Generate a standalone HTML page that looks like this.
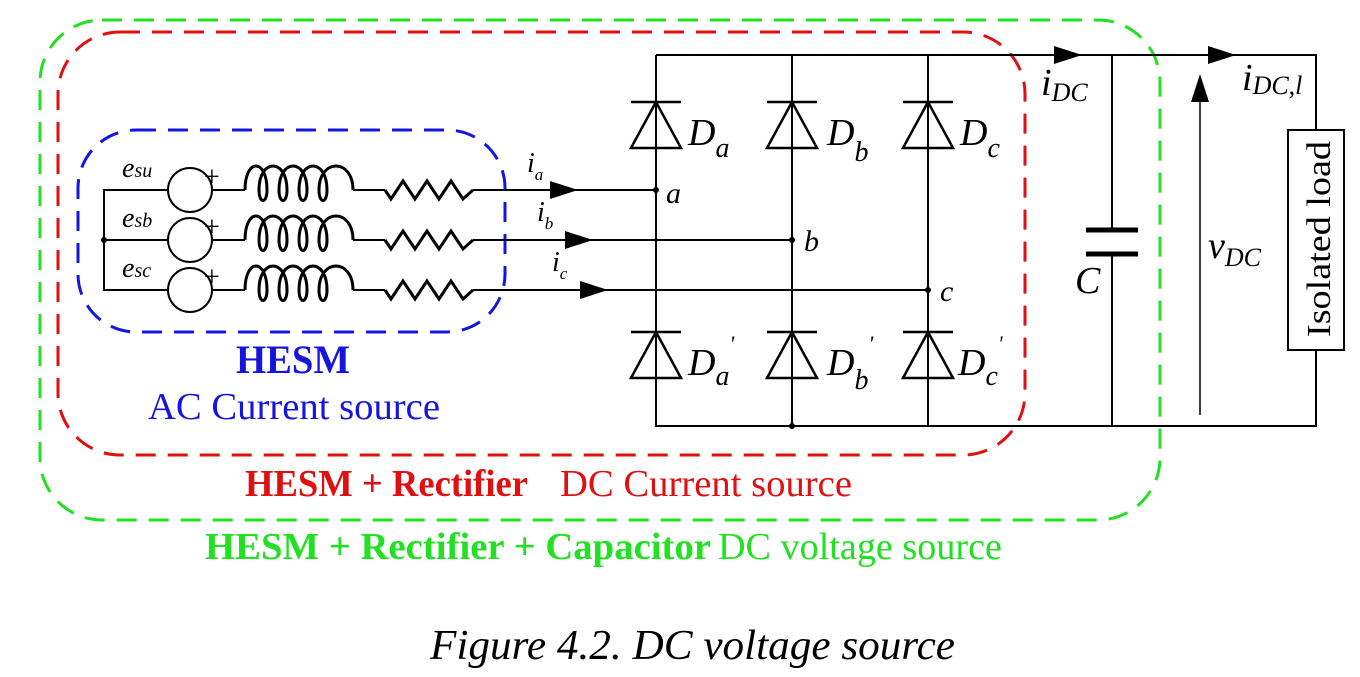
<!DOCTYPE html>
<html><head><style>
html,body{margin:0;padding:0;background:#fff;}
svg{display:block;}
text{font-family:"Liberation Serif",serif;}
</style></head><body>
<svg width="1360" height="677" viewBox="0 0 1360 677" xmlns="http://www.w3.org/2000/svg">
<defs>
<g id="ind"><path d="M0,0 C0,-32 22,-32 22,0 C22,14 14,14 14,0 C14,-32 42,-32 42,0 C42,14 34,14 34,0 C34,-32 62,-32 62,0 C62,14 54,14 54,0 C54,-32 82,-32 82,0 C82,14 74,14 74,0 C74,-32 108,-32 108,0" fill="none" stroke="#000" stroke-width="3"/></g>
<g id="res"><path d="M0,0 L6,9 L18,-9 L30,9 L42,-9 L54,9 L66,-9 L78,9 L88,0" fill="none" stroke="#000" stroke-width="3"/></g>
<g id="dio"><path d="M-25,0 L25,0 M0,0 L-25,46 L25,46 Z" fill="none" stroke="#000" stroke-width="2.5"/></g>
</defs>
<rect x="40" y="20" width="1120" height="500" rx="62" fill="none" stroke="#22e022" stroke-width="3" stroke-dasharray="20,12"/>
<rect x="58" y="32" width="967" height="423" rx="62" fill="none" stroke="#e01010" stroke-width="3" stroke-dasharray="20,12"/>
<rect x="78" y="130" width="427" height="202" rx="58" fill="none" stroke="#1515e0" stroke-width="3" stroke-dasharray="20,12"/>
<g stroke="#000" stroke-width="2" fill="none">
<path d="M168,190 H104 V290 H168 M104,240 H168"/>
<circle cx="190" cy="190" r="22"/><circle cx="190" cy="240" r="22"/><circle cx="190" cy="290" r="22"/>
<path d="M212,190 H245 M212,240 H245 M212,290 H245"/>
<path d="M353,190 H385 M353,240 H385 M353,290 H385"/>
<path d="M473,190 H656 M473,240 H792 M473,290 H928"/>
<path d="M656,55 H1316 V130 M1316,350 V426 H656 V55 M792,55 V426 M928,55 V426 M1112,55 V230 M1112,254 V426"/>
<path d="M1200,415 V100" stroke-width="1.5"/>
</g>
<circle cx="104" cy="240" r="3"/><circle cx="656" cy="190" r="3"/><circle cx="792" cy="240" r="3"/><circle cx="928" cy="290" r="3"/><circle cx="792" cy="426" r="3"/>
<g font-size="28"><text x="204" y="186">+</text><text x="204" y="236">+</text><text x="204" y="286">+</text></g>
<use href="#ind" x="245" y="190"/><use href="#ind" x="245" y="240"/><use href="#ind" x="245" y="290"/>
<use href="#res" x="385" y="190"/><use href="#res" x="385" y="240"/><use href="#res" x="385" y="290"/>
<g fill="#000">
<path d="M550,181 L578,190 L550,199Z"/><path d="M565,231 L593,240 L565,249Z"/><path d="M580,281 L608,290 L580,299Z"/>
<path d="M1054,46 L1082,55 L1054,64Z"/><path d="M1208,46 L1236,55 L1208,64Z"/>
<path d="M1191,102 L1200,74 L1209,102Z"/>
</g>
<use href="#dio" x="656" y="102"/><use href="#dio" x="792" y="102"/><use href="#dio" x="928" y="102"/>
<use href="#dio" x="656" y="332"/><use href="#dio" x="792" y="332"/><use href="#dio" x="928" y="332"/>
<path d="M1086,230 H1138 M1086,254 H1138" stroke="#000" stroke-width="5"/>
<rect x="1288" y="130" width="56" height="220" fill="#fff" stroke="#000" stroke-width="2"/>
<text transform="translate(1330,337) rotate(-90)" font-size="34" textLength="196" lengthAdjust="spacingAndGlyphs">Isolated load</text>
<g font-style="italic">
<text x="122" y="177" font-size="28">e<tspan font-size="20">su</tspan></text>
<text x="122" y="227" font-size="28">e<tspan font-size="20">sb</tspan></text>
<text x="122" y="277" font-size="28">e<tspan font-size="20">sc</tspan></text>
<text x="527" y="172" font-size="28">i<tspan font-size="17" dy="8">a</tspan></text>
<text x="537" y="221" font-size="28">i<tspan font-size="17" dy="8">b</tspan></text>
<text x="552" y="271" font-size="28">i<tspan font-size="17" dy="8">c</tspan></text>
<text x="666" y="203" font-size="30">a</text>
<text x="804" y="251" font-size="30">b</text>
<text x="940" y="301" font-size="30">c</text>
<text x="688" y="145" font-size="38">D<tspan font-size="28" dy="12">a</tspan></text>
<text x="827" y="145" font-size="38">D<tspan font-size="28" dy="16">b</tspan></text>
<text x="960" y="145" font-size="38">D<tspan font-size="28" dy="12">c</tspan></text>
<text x="688" y="375" font-size="38">D<tspan font-size="28" dy="10">a</tspan><tspan font-size="22" dy="-34">'</tspan></text>
<text x="827" y="375" font-size="38">D<tspan font-size="28" dy="14">b</tspan><tspan font-size="22" dy="-38">'</tspan></text>
<text x="958" y="375" font-size="38">D<tspan font-size="28" dy="10">c</tspan><tspan font-size="22" dy="-34">'</tspan></text>
<text x="1041" y="95" font-size="38">i<tspan font-size="26" dy="6">DC</tspan></text>
<text x="1242" y="90" font-size="38">i<tspan font-size="26" dy="4">DC,l</tspan></text>
<text x="1208" y="258" font-size="38">v<tspan font-size="26" dy="8">DC</tspan></text>
<text x="1075" y="293" font-size="38">C</text>
</g>
<text x="236" y="373" font-size="40" font-weight="bold" fill="#1515e0" textLength="114" lengthAdjust="spacingAndGlyphs">HESM</text>
<text x="148" y="419" font-size="38" fill="#1515e0" textLength="292" lengthAdjust="spacingAndGlyphs">AC Current source</text>
<text x="245" y="496" font-size="38" font-weight="bold" fill="#e01010" textLength="283" lengthAdjust="spacingAndGlyphs">HESM + Rectifier</text>
<text x="560" y="496" font-size="38" fill="#e01010" textLength="292" lengthAdjust="spacingAndGlyphs">DC Current source</text>
<text x="205" y="559" font-size="38" font-weight="bold" fill="#22e022" textLength="506" lengthAdjust="spacingAndGlyphs">HESM + Rectifier + Capacitor</text>
<text x="718" y="559" font-size="38" fill="#22e022" textLength="284" lengthAdjust="spacingAndGlyphs">DC voltage source</text>
<text x="430" y="659" font-size="42" font-style="italic" textLength="525" lengthAdjust="spacingAndGlyphs">Figure 4.2. DC voltage source</text>
</svg>
</body></html>
